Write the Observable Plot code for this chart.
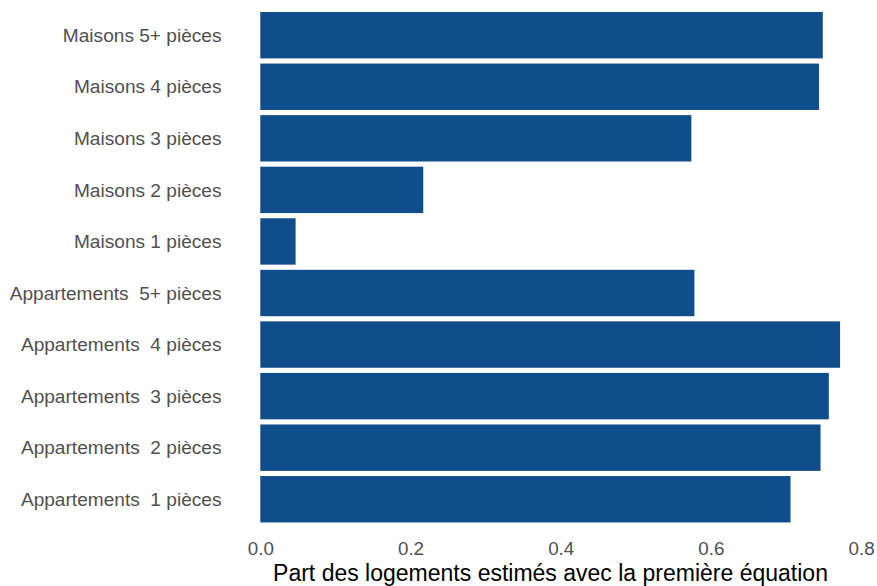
<!DOCTYPE html>
<html>
<head>
<meta charset="utf-8">
<script src="https://cdn.jsdelivr.net/npm/d3@7"></script>
<script src="https://cdn.jsdelivr.net/npm/@observablehq/plot@0.6"></script>
<style>
  html, body { margin: 0; padding: 0; background: #fff; }
  svg text { white-space: pre; }
  g[aria-label="x-axis label"] text { fill: #000; font-size: 23px; }
</style>
</head>
<body>
<div id="chart"></div>
<script>
// Categories, top to bottom
const categories = [
  "Maisons 5+ pièces",
  "Maisons 4 pièces",
  "Maisons 3 pièces",
  "Maisons 2 pièces",
  "Maisons 1 pièces",
  "Appartements  5+ pièces",
  "Appartements  4 pièces",
  "Appartements  3 pièces",
  "Appartements  2 pièces",
  "Appartements  1 pièces"
];
// Share of dwellings estimated with the first equation
const shares = [0.749, 0.744, 0.574, 0.217, 0.047, 0.578, 0.772, 0.757, 0.746, 0.706];
const xTicks = [0, 0.2, 0.4, 0.6, 0.8];
const xTitle = "Part des logements estimés avec la première équation";

const data = categories.map((c, i) => ({category: c, share: shares[i]}));

const chart = Plot.plot({
  width: 877,
  height: 586,
  marginTop: 6.84,
  marginBottom: 58.4,
  marginLeft: 231,
  marginRight: 8,
  style: {
    fontFamily: "'Liberation Sans', Arial, Helvetica, sans-serif",
    fontSize: "18.8px",
    color: "#505050",
    background: "#fff"
  },
  x: {domain: [0, 0.8], range: [260.3, 861.1]},
  y: {domain: categories, padding: 0.1, round: false},
  marks: [
    Plot.barX(data, {x: "share", y: "category", fill: "#104E8B"}),
    Plot.axisY({tickSize: 0, tickPadding: 10, label: null, fontSize: 19.1}),
    Plot.axisX({
      ticks: xTicks,
      tickFormat: d3.format(".1f"),
      tickSize: 0,
      tickPadding: 13.5,
      label: xTitle,
      labelAnchor: "center",
      labelArrow: "none",
      labelOffset: 53
    })
  ]
});
document.getElementById("chart").appendChild(chart);
</script>
</body>
</html>
